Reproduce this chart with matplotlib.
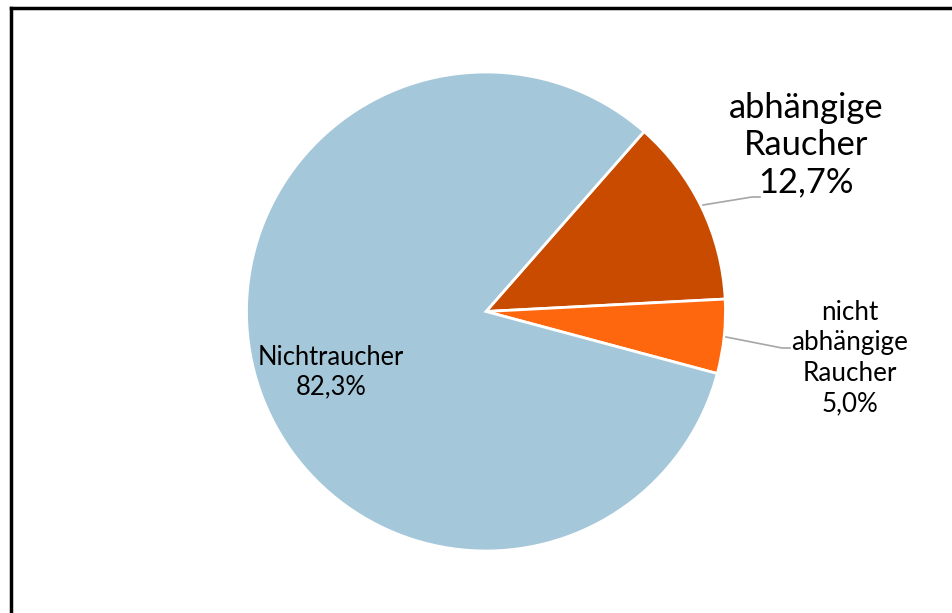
import matplotlib
matplotlib.use("Agg")
import matplotlib.pyplot as plt
from matplotlib.lines import Line2D

categories = ["abhängige\nRaucher", "nicht\nabhängige\nRaucher", "Nichtraucher"]
values = [12.7, 5.0, 82.3]
colors = ["#C84B00", "#FF670F", "#A5C7DA"]

plt.rcParams['font.family'] = ['Lato', 'DejaVu Sans']

W, H = 953, 613
fig = plt.figure(figsize=(W / 100, H / 100), dpi=100)
ax = fig.add_axes([0, 0, 1, 1])

cx, cy, r = 486, H - 311.5, 239.5
wedges, _ = ax.pie(values, colors=colors, startangle=48.7, counterclock=False,
                   center=(cx, cy), radius=r, frame=True,
                   wedgeprops=dict(edgecolor='white', linewidth=2))
ax.set_xlim(0, W)
ax.set_ylim(0, H)
ax.set_aspect('equal')
ax.axis('off')

def lab(i):
    return f"{categories[i]}\n{values[i]:.1f}%".replace('.', ',')

# labels
ax.text(806, H - 145, lab(0), ha='center', va='center', fontsize=24.8,
        linespacing=1.2, color='black')
ax.text(850, H - 358, lab(1), ha='center', va='center', fontsize=18.7,
        linespacing=1.28, color='black')
ax.text(331, H - 372, lab(2), ha='center', va='center', fontsize=18.4,
        linespacing=1.2, color='black')

# leader lines
ax.plot([703, 752, 760], [H - 205, H - 197, H - 197], color='#A6A6A6', lw=1.2)
ax.plot([726, 782, 790], [H - 337, H - 348, H - 348], color='#A6A6A6', lw=1.2)

# frame (left and top visible only)
y_top = 1 - 7.5 / H
x_left = 11 / W
fig.lines.append(Line2D([x_left, x_left], [-0.05, y_top], transform=fig.transFigure,
                        color='black', linewidth=2.5, solid_capstyle='projecting'))
fig.lines.append(Line2D([x_left, 1.05], [y_top, y_top], transform=fig.transFigure,
                        color='black', linewidth=2.5, solid_capstyle='projecting'))

fig.savefig("out.png", dpi=100)
